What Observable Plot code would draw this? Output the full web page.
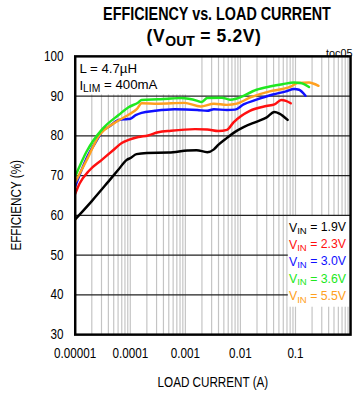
<!DOCTYPE html>
<html><head><meta charset="utf-8">
<script src="https://cdn.jsdelivr.net/npm/d3@7"></script>
<script src="https://cdn.jsdelivr.net/npm/@observablehq/plot@0.6"></script>
<style>
html,body{margin:0;padding:0;background:#fff;overflow:hidden;}
#wrap{position:relative;width:354px;height:393px;overflow:hidden;font-family:"Liberation Sans",Arial,sans-serif;}
#head{position:relative;height:48px;}
.t{position:absolute;white-space:nowrap;font-weight:bold;line-height:1;transform-origin:50% 50%;}
#t1{left:217px;top:6px;font-size:17.5px;transform:translateX(-50%) scaleX(0.82);}
#t2{left:204px;top:28px;font-size:17.5px;letter-spacing:0.6px;transform:translateX(-50%);}
#t2 sub{font-size:0.8em;vertical-align:-0.25em;line-height:0;letter-spacing:0;}
#chart{position:absolute;left:0;top:48px;}
</style></head><body>
<div id="wrap">
<div id="head">
<div class="t" id="t1">EFFICIENCY vs. LOAD CURRENT</div>
<div class="t" id="t2">(V<sub>OUT</sub> = 5.2V)</div>
</div>
<div id="chart"></div>
</div>
<script>
// ---- data (load current in A, efficiency in %) ----
const vin19 = [[1e-5,59.0],[2e-5,63.6],[4e-5,68.5],[6e-5,71.4],[8.7e-5,74.0],[1.0e-4,74.4],[1.3e-4,75.4],[2e-4,75.7],[5e-4,75.8],[1.1e-3,76.3],[1.6e-3,76.4],[2.5e-3,75.9],[3.3e-3,76.6],[4e-3,77.8],[5.7e-3,79.5],[8e-3,81.0],[1.14e-2,82.2],[2e-2,83.6],[2.95e-2,84.6],[4.15e-2,86.0],[5.1e-2,85.6],[7.2e-2,84.0]];
const vin23 = [[1e-5,65.4],[1.2e-5,68.0],[1.8e-5,71.3],[3e-5,73.9],[5e-5,76.5],[7e-5,78.2],[9.3e-5,79.0],[1.4e-4,79.7],[2.1e-4,80.1],[3.2e-4,80.9],[5.5e-4,81.3],[1.5e-3,81.7],[2.5e-3,81.6],[4e-3,81.2],[5.7e-3,81.5],[7.5e-3,83.4],[1.48e-2,86.3],[2.95e-2,87.5],[4.15e-2,87.9],[5.5e-2,89.0],[6.7e-2,88.8],[8.2e-2,88.2]];
const vin30 = [[1e-5,67.3],[1.6e-5,74.3],[2.7e-5,79.8],[3.1e-5,81.2],[4.1e-5,82.3],[6.2e-5,84.0],[8.5e-5,84.2],[1.0e-4,84.3],[1.25e-4,85.2],[1.6e-4,85.8],[2.8e-4,86.3],[6.3e-4,86.7],[1.66e-3,86.5],[2.5e-3,86.3],[3.3e-3,86.7],[5.7e-3,86.5],[8e-3,86.6],[1.14e-2,87.9],[1.96e-2,89.1],[3.87e-2,90.4],[6.7e-2,91.2],[9.5e-2,91.8],[0.116,91.6],[0.152,90.1]];
const vin36 = [[1e-5,69.8],[1.6e-5,76.0],[3.1e-5,81.7],[6.2e-5,85.3],[9.3e-5,87.2],[1.4e-4,88.4],[1.6e-4,89.0],[3.2e-4,89.2],[5.5e-4,89.4],[8.4e-4,89.5],[1.66e-3,88.8],[1.95e-3,88.5],[2.5e-3,89.5],[4.6e-3,89.6],[6.5e-3,89.1],[8.6e-3,89.4],[1.96e-2,91.6],[3.4e-2,92.4],[5.8e-2,93.0],[9.5e-2,93.4],[0.123,93.3],[0.176,92.3]];
const vin55 = [[1e-5,68.3],[1.6e-5,73.8],[2.7e-5,80.0],[5.4e-5,83.4],[9e-5,85.2],[1.31e-4,86.7],[1.61e-4,88.2],[3.2e-4,88.1],[9.6e-4,88.3],[1.9e-3,87.4],[3.3e-3,88.1],[5.7e-3,87.8],[8.6e-3,88.1],[1.48e-2,89.6],[3.4e-2,91.2],[5.8e-2,91.8],[8.2e-2,92.4],[0.109,93.3],[0.176,93.4],[0.215,93.1],[0.262,92.6]];
const vinLabels = ["1.9","2.3","3.0","3.6","5.5"];
const seriesColors = ["#000000","#ff1010","#1010ff","#20e820","#ffa020"];
const xTickValues = [1e-5,1e-4,1e-3,1e-2,1e-1];
const xTickLabels = ["0.00001","0.0001","0.001","0.01","0.1"];
const yTickValues = [30,40,50,60,70,80,90,100];
const annotationLines = ["L = 4.7µH","ILIM = 400mA"];

// ---- build ----
const FONT = '"Liberation Sans",Arial,sans-serif';
const NARROW = 0.82;
const seriesData = [vin19, vin23, vin30, vin36, vin55];
const drawOrder = [0,1,2,4,3];
const rows = [];
drawOrder.forEach(k => {
  seriesData[k].forEach(([x,y]) => rows.push({x, y, s: vinLabels[k]}));
});
const gridX = [];
for (let k = -5; k <= -1; k++) for (let m = 1; m <= 9; m++) { const v = m * Math.pow(10,k); if (v > 1e-5) gridX.push(v); }
const gridY = yTickValues.filter(v => v > 30 && v < 100);
const annBox = [{x1:1e-5, x2:1.3e-3, y1:90.3, y2:100}];
const legBox = [{x1:0.074, x2:1, y1:36.9, y2:59.7}];
const legendRows = vinLabels.map((v,i) => ({text:"VIN = " + v + "V", s:v, i}));

const chart = Plot.plot({
  width: 360, height: 345,
  marginLeft: 76, marginRight: 4, marginTop: 8, marginBottom: 54,
  style: {fontFamily: FONT, fontSize: "14.5px", color: "#000", background: "#fff", overflow: "visible"},
  x: {type: "log", domain: [1e-5, 1]},
  y: {domain: [30, 100]},
  color: {domain: vinLabels, range: seriesColors},
  marks: [
    Plot.ruleX(gridX, {stroke: "#c4c4c4", strokeWidth: 1.2}),
    Plot.ruleY(gridY, {stroke: "#222", strokeWidth: 1.3}),
    Plot.rect(annBox, {x1: "x1", x2: "x2", y1: "y1", y2: "y2", fill: "#fff"}),
    Plot.line(rows, {x: "x", y: "y", z: "s", stroke: "s", strokeWidth: 2.5, curve: "monotone-x"}),
    Plot.rect(legBox, {x1: "x1", x2: "x2", y1: "y1", y2: "y2", fill: "#fff"}),
    Plot.text(annotationLines, {x: () => 1.19e-5, y: (d,i) => 97.0 - i*4.4, text: d => d, textAnchor: "start", fontSize: 13.5, fill: "#000"}),
    Plot.text(legendRows, {x: () => 0.076, y: d => 56.9 - d.i*4.33, text: "text", fill: "s", textAnchor: "start", fontSize: 12.5}),
    Plot.text(["toc05"], {frameAnchor: "top-right", textAnchor: "end", dx: 2, dy: -7, fontSize: 11, text: d => d}),
    Plot.axisX({ticks: xTickValues, tickFormat: d => xTickLabels[xTickValues.indexOf(d)], tickSize: 0, tickPadding: 13, fontSize: 14.5, label: "LOAD CURRENT (A)", labelAnchor: "center", labelArrow: "none", labelOffset: 53}),
    Plot.axisY({ticks: yTickValues, tickSize: 0, tickPadding: 12, fontSize: 14.5, label: "EFFICIENCY (%)", labelAnchor: "center", labelArrow: "none", labelOffset: 65}),
    Plot.frame({stroke: "#000", strokeWidth: 2.5})
  ]
});
document.getElementById("chart").appendChild(chart);

// post-process texts: subscripts, and narrow face for axis texts
d3.select(chart).selectAll("text").each(function() {
  const t = this.textContent;
  const el = d3.select(this);
  let m = t.match(/^(V)(IN)( = .*)$/) || t.match(/^(I)(LIM)( = .*)$/);
  if (m) {
    el.text(null);
    el.append("tspan").text(m[1]);
    el.append("tspan").attr("font-size", "0.78em").attr("dy", "0.22em").text(m[2]);
    el.append("tspan").attr("dy", "-0.22em").text(m[3]);
    return;
  }
  if (t === "toc05" || t.startsWith("L = ")) return;
  const tr = this.getAttribute("transform") || "";
  // the rotated y label sits a little below the frame's centre in the reference
  const shift = t === "EFFICIENCY (%)" ? " translate(-10,0)" : "";
  this.setAttribute("transform", tr + shift + ` scale(${NARROW},1)`);
});
</script>
</body></html>
